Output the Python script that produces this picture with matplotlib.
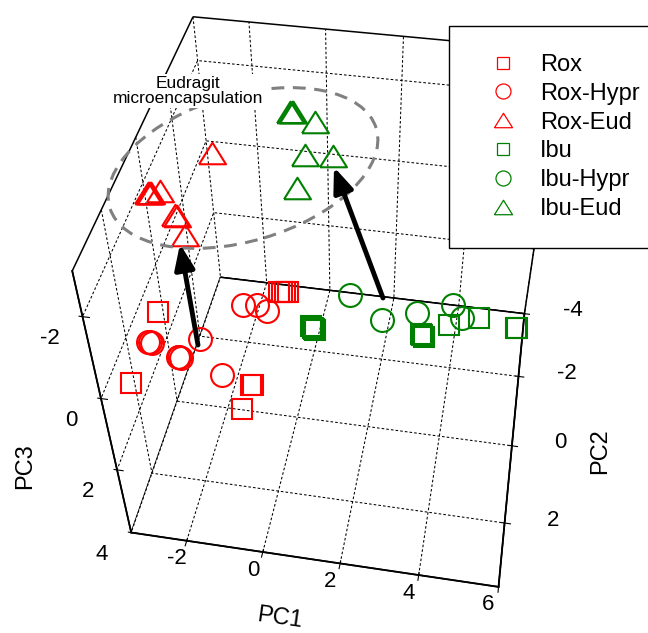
import numpy as np
import matplotlib
matplotlib.use("Agg")
import matplotlib.pyplot as plt
from matplotlib.lines import Line2D
from matplotlib.patches import Ellipse, FancyArrowPatch

plt.rcParams["font.family"] = ["Liberation Sans", "DejaVu Sans"]
plt.rcParams["axes.unicode_minus"] = False

# PCA scores (PC1, PC2, PC3), replicates included
rox_pc1 = [-3.47, -3.45, -0.50, -0.55, -0.59, -0.30, -0.38, -0.46, -0.54]
rox_pc2 = [0.29, 2.21, 1.86, 1.88, 2.47, -0.71, -0.70, -0.69, -0.68]
rox_pc3 = [1.0, 1.0, 1.0, 1.0, 1.0, 1.0, 1.0, 1.0, 1.0]

rox_hypr_pc1 = [-3.42, -3.37, -3.32, -2.55, -2.51, -2.46, -2.16, -1.32, -1.36, -1.00, -0.70]
rox_hypr_pc2 = [1.12, 1.13, 1.14, 1.40, 1.41, 1.42, 0.87, 1.72, -0.19, -0.23, -0.10]
rox_hypr_pc3 = [1.0, 1.0, 1.0, 1.0, 1.0, 1.0, 1.0, 1.0, 1.0, 1.0, 1.0]

rox_eud_pc1 = [-2.14, -3.25, -3.23, -3.21, -3.19, -2.99, -2.42, -2.37, -2.01]
rox_eud_pc2 = [-1.06, 0.27, 0.27, 0.27, 0.27, 0.18, 0.78, 0.80, 1.27]
rox_eud_pc3 = [-2.0, -2.0, -2.0, -2.0, -2.0, -2.0, -2.0, -2.0, -2.0]

ibu_pc1 = [0.53, 0.57, 0.61, 0.65, 3.32, 3.36, 3.40, 3.99, 4.72, 5.67, 5.70]
ibu_pc2 = [0.17, 0.20, 0.23, 0.26, 0.00, 0.04, 0.08, -0.33, -0.62, -0.47, -0.47]
ibu_pc3 = [1.0, 1.0, 1.0, 1.0, 1.0, 1.0, 1.0, 1.0, 1.0, 1.0, 1.0]

ibu_hypr_pc1 = [1.32, 2.28, 3.13, 4.01, 4.29]
ibu_hypr_pc2 = [-0.83, -0.24, -0.55, -0.90, -0.57]
ibu_hypr_pc3 = [1.0, 1.0, 1.0, 1.0, 1.0]

ibu_eud_pc1 = [-0.60, -0.56, -0.52, 0.10, 0.11, 0.79, 0.16]
ibu_eud_pc2 = [-2.59, -2.59, -2.59, -2.34, -1.30, -1.36, -0.32]
ibu_eud_pc3 = [-2.0, -2.0, -2.0, -2.0, -2.0, -2.0, -2.0]

labels = ["Rox", "Rox-Hypr", "Rox-Eud", "Ibu", "Ibu-Hypr", "Ibu-Eud"]
pc1_ticks = [-2, 0, 2, 4, 6]
pc2_ticks = [-4, -2, 0, 2]
pc3_ticks = [-2, 0, 2, 4]

red = "#ff0000"
green = "#008000"
tri = [(-1, -0.8), (1, -0.8), (0, 0.8), (-1, -0.8)]

W, H = 648, 633
fig = plt.figure(figsize=(W / 100, H / 100), dpi=100)
ax = fig.add_axes([0.0306, 0.0211, 0.9710, 0.9940], projection="3d")
xlim, ylim, zlim = (-3.48, 6), (3.5, -4), (4, -3)
ax.set_xlim(*xlim)
ax.set_ylim(*ylim)
ax.set_zlim(*zlim)
ax.view_init(45.22, -79.93, 0.32)
ax.set_proj_type("persp", focal_length=0.357)
ax.set_box_aspect((1, 1.01, 0.991))

ax.set_xticks(pc1_ticks)
ax.set_yticks(pc2_ticks)
ax.set_zticks(pc3_ticks)
ax.zaxis.set_ticks_position("upper")
ax.tick_params(labelcolor="none")

for axis in (ax.xaxis, ax.yaxis, ax.zaxis):
    axis.set_pane_color((1, 1, 1, 1))
    axis.pane.set_edgecolor("k")
    axis.pane.set_linewidth(1.1)
    axis.line.set_linewidth(1.3)
    axis._axinfo["grid"].update(color="k", linewidth=0.75, linestyle=(0, (2.5, 2)))

groups = [
    (rox_pc1, rox_pc2, rox_pc3, red, "s", 14.4),
    (rox_hypr_pc1, rox_hypr_pc2, rox_hypr_pc3, red, "o", 16.5),
    (rox_eud_pc1, rox_eud_pc2, rox_eud_pc3, red, tri, 19.4),
    (ibu_pc1, ibu_pc2, ibu_pc3, green, "s", 14.4),
    (ibu_hypr_pc1, ibu_hypr_pc2, ibu_hypr_pc3, green, "o", 16.5),
    (ibu_eud_pc1, ibu_eud_pc2, ibu_eud_pc3, green, tri, 19.4),
]
handles = []
for (x, y, z, c, m, ms), lab in zip(groups, labels):
    ax.plot(x, y, z, linestyle="none", marker=m, ms=ms, mfc="none", mec=c, mew=1.5)
    hs = {"s": 8.6, "o": 10.8}.get(m, 13) if isinstance(m, str) else 13
    handles.append(Line2D([], [], linestyle="none", marker=m, ms=hs, mfc="none", mec=c, mew=0.9))

fig.legend(handles, labels, loc="upper left", bbox_to_anchor=(449 / W, 1 - 26 / H),
           fontsize=17, frameon=True, fancybox=False, edgecolor="k", framealpha=1,
           borderpad=1.18, labelspacing=0.29, handlelength=2.2, handletextpad=0.47,
           borderaxespad=0)

# tick labels placed next to the projected tick positions
fig.canvas.draw()
M = ax.get_proj()


def to_pix(x, y, z):
    h = M @ np.array([x, y, z, 1.0])
    return ax.transData.transform((h[0] / h[3], h[1] / h[3]))


for t in pc1_ticks:
    px, py = to_pix(t, ylim[0], zlim[0])
    fig.text((px - 10) / W, (py - 18) / H, str(t), fontsize=16, ha="center", va="center")
for t in pc2_ticks:
    px, py = to_pix(xlim[1], t, zlim[0])
    fig.text((px + 48) / W, (py + 3) / H, str(t), fontsize=16, ha="center", va="center")
for t in pc3_ticks:
    px, py = to_pix(xlim[0], ylim[0], t)
    fig.text((px - 23) / W, (py - 22) / H, str(t), fontsize=16, ha="right", va="center")

# axis labels
fig.text(280 / W, 1 - 618 / H, "PC1", fontsize=17, rotation=-8, ha="center", va="center")
fig.text(600 / W, 1 - 451 / H, "PC2", fontsize=17, rotation=90, ha="center", va="center")
fig.text(25 / W, 1 - 466 / H, "PC3", fontsize=17, rotation=90, ha="center", va="center")

# annotation: dashed ellipse, note and arrows (figure inches)
tr = fig.dpi_scale_trans
fig.add_artist(Ellipse((2.43, (H - 168) / 100), 2.78, 1.46, angle=16.5, transform=tr,
                       fill=False, ec="#808080", lw=2.2, ls=(0, (4.2, 2.8))))
fig.text(188 / 100, (H - 91) / 100, "Eudragit\nmicroencapsulation", transform=tr,
         fontsize=12.5, ha="center", va="center", linespacing=0.95,
         bbox=dict(fc="white", ec="none", pad=1.5))
for (x0, y0), (x1, y1) in [((198, 345), (180, 244)), ((383, 298), (334, 167))]:
    fig.add_artist(FancyArrowPatch((x0 / 100, (H - y0) / 100), (x1 / 100, (H - y1) / 100),
                                   transform=tr, arrowstyle="-|>,head_length=1.5,head_width=0.6",
                                   mutation_scale=10, lw=3.5, color="k",
                                   shrinkA=0, shrinkB=0))

fig.savefig("out.png", dpi=100)
